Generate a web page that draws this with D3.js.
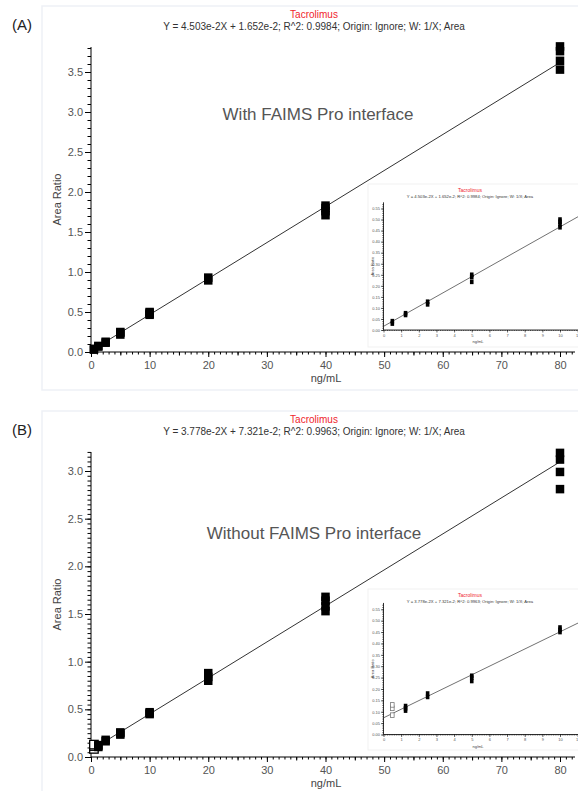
<!DOCTYPE html>
<html>
<head>
<meta charset="utf-8">
<script src="https://cdn.jsdelivr.net/npm/d3@7"></script>
<style>
  body { margin: 0; background: #fff; }
  svg { display: block; font-family: "Liberation Sans", Arial, sans-serif; }
</style>
</head>
<body>
<div id="chart"></div>
<script>
// concentration levels (ng/mL) and replicate area ratios
const levels = [0.5, 1.25, 2.5, 5, 10, 20, 40, 80]
const ratiosA = [
    [0.029, 0.040], [0.068, 0.076], [0.116, 0.128], [0.218, 0.240, 0.250],
    [0.465, 0.478, 0.490, 0.500], [0.895, 0.930], [1.71, 1.76, 1.80, 1.83],
    [3.53, 3.64, 3.76, 3.82]
]
const ratiosB = [
    [0.085, 0.115, 0.130], [0.105, 0.115, 0.125], [0.165, 0.180], [0.235, 0.250, 0.258],
    [0.450, 0.460, 0.470], [0.80, 0.84, 0.88], [1.53, 1.58, 1.64, 1.68],
    [2.81, 2.99, 3.12, 3.19]
]
const excludedB = [0.5]   // drawn hollow
const fitA = {slope: 4.503e-2, intercept: 1.652e-2}
const fitB = {slope: 3.778e-2, intercept: 7.321e-2}
const equationA = "Y = 4.503e-2X + 1.652e-2; R^2: 0.9984; Origin: Ignore; W: 1/X; Area"
const equationB = "Y = 3.778e-2X + 7.321e-2; R^2: 0.9963; Origin: Ignore; W: 1/X; Area"
const compound = "Tacrolimus"
const xTicks = [0, 10, 20, 30, 40, 50, 60, 70, 80]
const yTicksA = [0, 0.5, 1.0, 1.5, 2.0, 2.5, 3.0, 3.5]
const yTicksB = [0, 0.5, 1.0, 1.5, 2.0, 2.5, 3.0]
const insetXTicks = [0, 1, 2, 3, 4, 5, 6, 7, 8, 9, 10, 11]
const insetYTicks = [0, 0.05, 0.10, 0.15, 0.20, 0.25, 0.30, 0.35, 0.40, 0.45, 0.50, 0.55]

const W = 578, H = 791
const svg = d3.select("#chart").append("svg").attr("width", W).attr("height", H)

function points(ratios, excluded) {
    const out = []
    levels.forEach((x, i) => ratios[i].forEach(y => out.push({x: x, y: y, hollow: excluded.includes(x)})))
    return out
}

function styleAxis(g, fontSize, color) {
    g.select(".domain").attr("stroke", "#000")
    g.selectAll(".tick line").attr("stroke", "#000")
    g.selectAll(".tick text").attr("font-size", fontSize).attr("fill", color)
        .attr("font-family", "Liberation Sans, Arial, sans-serif")
}

function drawPanel(p) {
    const root = svg.append("g")
    root.append("rect").attr("x", p.box[0]).attr("y", p.box[1]).attr("width", p.box[2]).attr("height", p.box[3])
        .attr("fill", "#fff").attr("stroke", "#eef1f6").attr("stroke-width", 1.5)
    root.append("text").attr("x", 22).attr("y", p.box[1] + 24).attr("text-anchor", "middle")
        .attr("font-size", 15).attr("fill", "#222").text(p.tag)
    root.append("text").attr("x", 314).attr("y", p.box[1] + 12).attr("text-anchor", "middle")
        .attr("font-size", 10).attr("fill", "#f0252d").text(compound)
    root.append("text").attr("x", 314).attr("y", p.box[1] + 24).attr("text-anchor", "middle")
        .attr("font-size", 10).attr("fill", "#333").text(p.equation)

    const x = d3.scaleLinear().domain([0, 80]).range([91, 560])
    const y = d3.scaleLinear().domain([0, p.yTicks[p.yTicks.length - 1]]).range(p.yRange)
    const y0 = y(0)

    // axes: minor then major ticks
    root.append("g").attr("transform", `translate(0,${y0})`)
        .call(d3.axisBottom(x).tickValues(d3.range(0, 83, 1)).tickSize(2.5).tickFormat(""))
        .call(g => styleAxis(g, 11, "#555"))
        .call(g => g.select(".domain").attr("d", `M${x(0)},0H${p.xEnd}`))
    root.append("g").attr("transform", `translate(0,${y0})`)
        .call(d3.axisBottom(x).tickValues(d3.range(5, 80, 10)).tickSize(3.5).tickFormat(""))
        .call(g => g.select(".domain").remove())
        .call(g => g.selectAll(".tick line").attr("stroke", "#000"))
    root.append("g").attr("transform", `translate(0,${y0})`)
        .call(d3.axisBottom(x).tickValues(xTicks).tickSize(5).tickPadding(4).tickFormat(d3.format("d")))
        .call(g => g.select(".domain").remove())
        .call(g => styleAxis(g, 11, "#555"))

    root.append("g").attr("transform", `translate(${x(0)},0)`)
        .call(d3.axisLeft(y).tickValues(d3.range(0, p.yTop, p.yMinor)).tickSize(3.5).tickFormat(""))
        .call(g => styleAxis(g, 11, "#555"))
        .call(g => g.select(".domain").attr("d", `M0,${y0}V${p.yAxisTop}`))
    root.append("g").attr("transform", `translate(${x(0)},0)`)
        .call(d3.axisLeft(y).tickValues(p.yTicks).tickSize(6).tickPadding(2).tickFormat(d3.format(".1f")))
        .call(g => g.select(".domain").remove())
        .call(g => styleAxis(g, 11, "#555"))

    root.append("text").attr("x", 326).attr("y", y0 + 29.5).attr("text-anchor", "middle")
        .attr("font-size", 11).attr("fill", "#444").text("ng/mL")
    root.append("text").attr("transform", `translate(61,${(y0 + p.yAxisTop) / 2}) rotate(-90)`)
        .attr("text-anchor", "middle").attr("font-size", 11).attr("fill", "#444").text("Area Ratio")

    root.append("text").attr("x", p.note[1]).attr("y", p.note[2]).attr("text-anchor", "middle")
        .attr("font-size", 17).attr("fill", "#555").text(p.note[0])

    // fit line
    const line = d3.line().x(d => x(d)).y(d => y(p.fit.slope * d + p.fit.intercept))
    root.append("path").attr("d", line([0, 80])).attr("fill", "none").attr("stroke", "#333").attr("stroke-width", 1)

    const pts = points(p.ratios, p.excluded)
    const s = 8.5
    root.selectAll("rect.pt").data(pts).join("rect").attr("class", "pt")
        .attr("x", d => x(d.x) - s / 2).attr("y", d => y(d.y) - s / 2)
        .attr("width", s).attr("height", s)
        .attr("fill", d => d.hollow ? "#fff" : "#000")
        .attr("stroke", d => d.hollow ? "#000" : "none").attr("stroke-width", 1.3)

    drawInset(root, p)
}

function drawInset(root, p) {
    const b = p.inset
    const g = root.append("g")
    g.append("rect").attr("x", b.box[0]).attr("y", b.box[1]).attr("width", b.box[2]).attr("height", b.box[3])
        .attr("fill", "#fff").attr("stroke", "#f1f1f1")
    const clipId = "clip" + p.tag.replace(/\W/g, "")
    g.append("clipPath").attr("id", clipId).append("rect")
        .attr("x", b.box[0]).attr("y", b.box[1]).attr("width", b.box[2]).attr("height", b.box[3])
    const c = g.append("g").attr("clip-path", `url(#${clipId})`)

    const cx = b.box[0] + 102
    c.append("text").attr("x", cx).attr("y", b.box[1] + 8).attr("text-anchor", "middle")
        .attr("font-size", 5).attr("fill", "#f0252d").text(compound)
    c.append("text").attr("x", cx).attr("y", b.box[1] + 14).attr("text-anchor", "middle")
        .attr("font-size", 4.2).attr("fill", "#333").text(p.equation)

    const x = d3.scaleLinear().domain([0, 10]).range([383.5, 560])
    const y = d3.scaleLinear().domain([0, 0.55]).range(b.yRange)
    const y0 = y(0)

    c.append("g").attr("transform", `translate(0,${y0})`)
        .call(d3.axisBottom(x).tickValues(d3.range(0, 11.05, 0.1)).tickSize(1).tickFormat(""))
        .call(a => styleAxis(a, 4, "#555"))
        .call(a => a.select(".domain").attr("d", `M${x(0)},0H${b.box[0] + b.box[2]}`).attr("stroke-width", 0.8))
    c.append("g").attr("transform", `translate(0,${y0})`)
        .call(d3.axisBottom(x).tickValues(insetXTicks).tickSize(2.5).tickPadding(1.5).tickFormat(d3.format("d")))
        .call(a => a.select(".domain").remove())
        .call(a => styleAxis(a, 4, "#555"))
    c.append("g").attr("transform", `translate(${x(0)},0)`)
        .call(d3.axisLeft(y).tickValues(d3.range(0, 0.575, 0.01)).tickSize(1.2).tickFormat(""))
        .call(a => styleAxis(a, 4, "#555"))
        .call(a => a.select(".domain").attr("d", `M0,${y0}V${y(0.578)}`).attr("stroke-width", 0.8))
    c.append("g").attr("transform", `translate(${x(0)},0)`)
        .call(d3.axisLeft(y).tickValues(insetYTicks).tickSize(2.5).tickPadding(1).tickFormat(d3.format(".2f")))
        .call(a => a.select(".domain").remove())
        .call(a => styleAxis(a, 4, "#555"))
    c.selectAll(".tick line").attr("stroke-width", 0.6)

    c.append("text").attr("x", 478).attr("y", y0 + 13).attr("text-anchor", "middle")
        .attr("font-size", 4).attr("fill", "#444").text("ng/mL")
    c.append("text").attr("transform", `translate(374,${(y0 + y(0.578)) / 2}) rotate(-90)`)
        .attr("text-anchor", "middle").attr("font-size", 4).attr("fill", "#444").text("Area Ratio")

    const line = d3.line().x(d => x(d)).y(d => y(p.fit.slope * d + p.fit.intercept))
    c.append("path").attr("d", line([0, 11.2])).attr("fill", "none").attr("stroke", "#333").attr("stroke-width", 0.7)

    const pts = points(p.ratios, p.excluded).filter(d => d.x <= 10)
    c.selectAll("rect.ipt").data(pts).join("rect").attr("class", "ipt")
        .attr("x", d => x(d.x) - 1.8).attr("y", d => y(d.y) - 2.3)
        .attr("width", 3.6).attr("height", 4.6)
        .attr("fill", d => d.hollow ? "#fff" : "#000")
        .attr("stroke", d => d.hollow ? "#777" : "none").attr("stroke-width", 0.8)
}

drawPanel({
    tag: "(A)", box: [42, 6, 545, 384], equation: equationA, fit: fitA,
    ratios: ratiosA, excluded: [], yTicks: yTicksA, yRange: [352, 72], yTop: 3.85, yMinor: 0.1,
    yAxisTop: 47, xEnd: 575, note: ["With FAIMS Pro interface", 318, 120],
    inset: {box: [368, 184, 215, 163], yRange: [330, 208.5]}
})
drawPanel({
    tag: "(B)", box: [42, 411, 545, 390], equation: equationB, fit: fitB,
    ratios: ratiosB, excluded: excludedB, yTicks: yTicksB, yRange: [757, 471], yTop: 3.22, yMinor: 0.05,
    yAxisTop: 452, xEnd: 575, note: ["Without FAIMS Pro interface", 314, 539],
    inset: {box: [368, 589, 215, 161], yRange: [734.5, 609.3]}
})
</script>
</body>
</html>
